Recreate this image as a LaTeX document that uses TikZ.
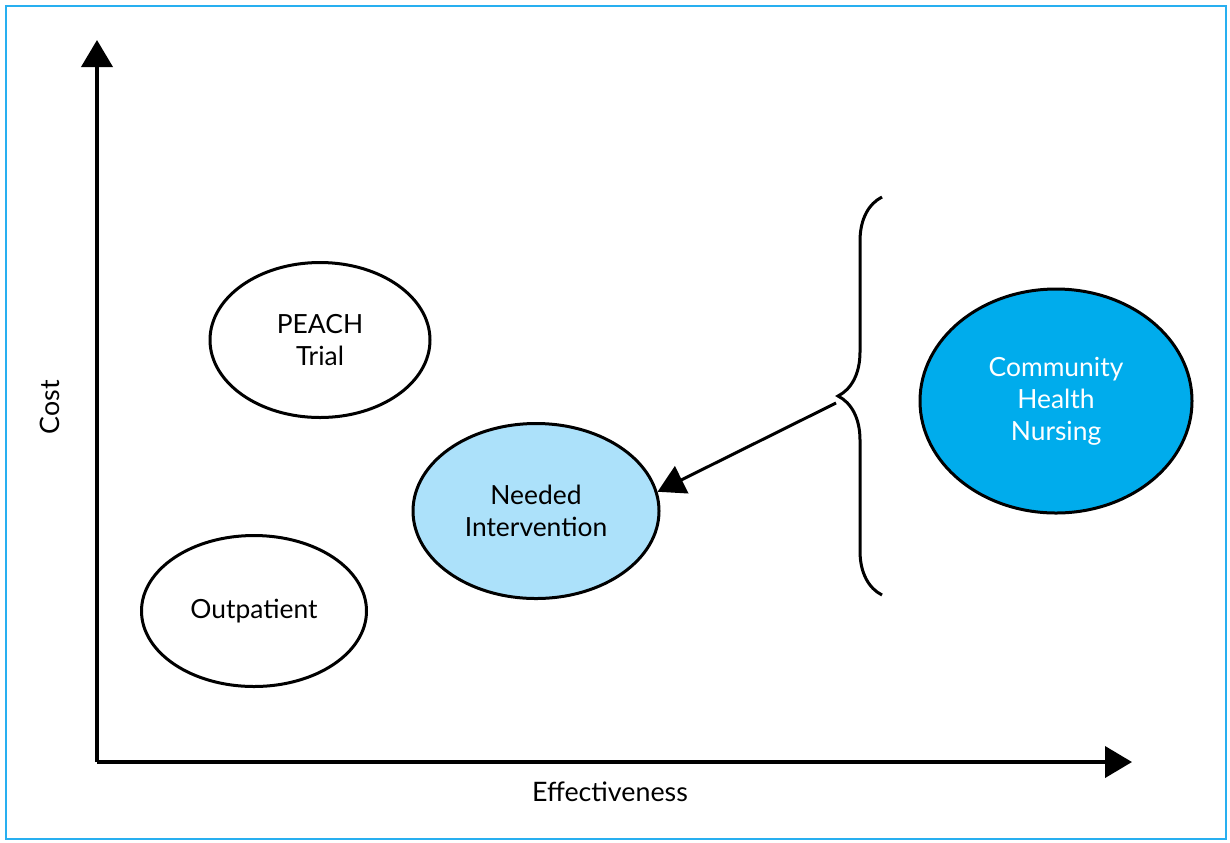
\documentclass[tikz,border=0pt]{standalone}
\usepackage{fontspec}
\setmainfont{Lato}
\usetikzlibrary{arrows.meta,shapes.geometric,decorations.pathreplacing}
\definecolor{framecyan}{RGB}{40,175,240}
\definecolor{lightblue}{RGB}{172,225,250}
\definecolor{deepblue}{RGB}{0,172,236}

\begin{document}
\begin{tikzpicture}[x=0.5pt,y=-0.5pt,
  blob/.style={ellipse,draw,line width=1.5pt,inner sep=0pt,align=center,
    font=\fontsize{13.2}{16}\selectfont},
  axis/.style={line width=2pt,-{Triangle[length=13.5pt,width=15.5pt]}},
  lbl/.style={font=\fontsize{13.4}{16}\selectfont}]
\useasboundingbox (0,0) rectangle (1230,842);
\draw[framecyan,line width=1pt] (6,6) rectangle (1226,839);
% axes
\coordinate (o) at (97,762);
\coordinate (ytop) at (97,40);
\coordinate (xend) at (1132,762);
\draw[axis] (o) -- (ytop);
\draw[axis] (o) -- (xend);
\node[lbl,rotate=90] (cost) at (50,407) {Cost};
\node[lbl] (eff) at (610,792) {Effectiveness};
% options
\node[blob,minimum width=110pt,minimum height=77.5pt] (peach) at (320,340) {PEACH\\Trial};
\node[blob,minimum width=112.5pt,minimum height=75.5pt] (outp) at (254,611) {Outpatient};
\node[blob,fill=lightblue,minimum width=123pt,minimum height=87.5pt] (need) at (536,511) {Needed\\Intervention};
\node[blob,fill=deepblue,text=white,minimum width=136pt,minimum height=112pt] (chn) at (1056,401) {Community\\Health\\Nursing};
% brace and arrow
\draw[line width=1.5pt,decorate,decoration={brace,amplitude=22pt}] (882,595) -- (882,197);
\coordinate (bracetip) at (836,403);
\draw[line width=1.5pt,-{Triangle[length=13.5pt,width=15pt]}] (bracetip) -- (need.9);
\end{tikzpicture}
\end{document}
